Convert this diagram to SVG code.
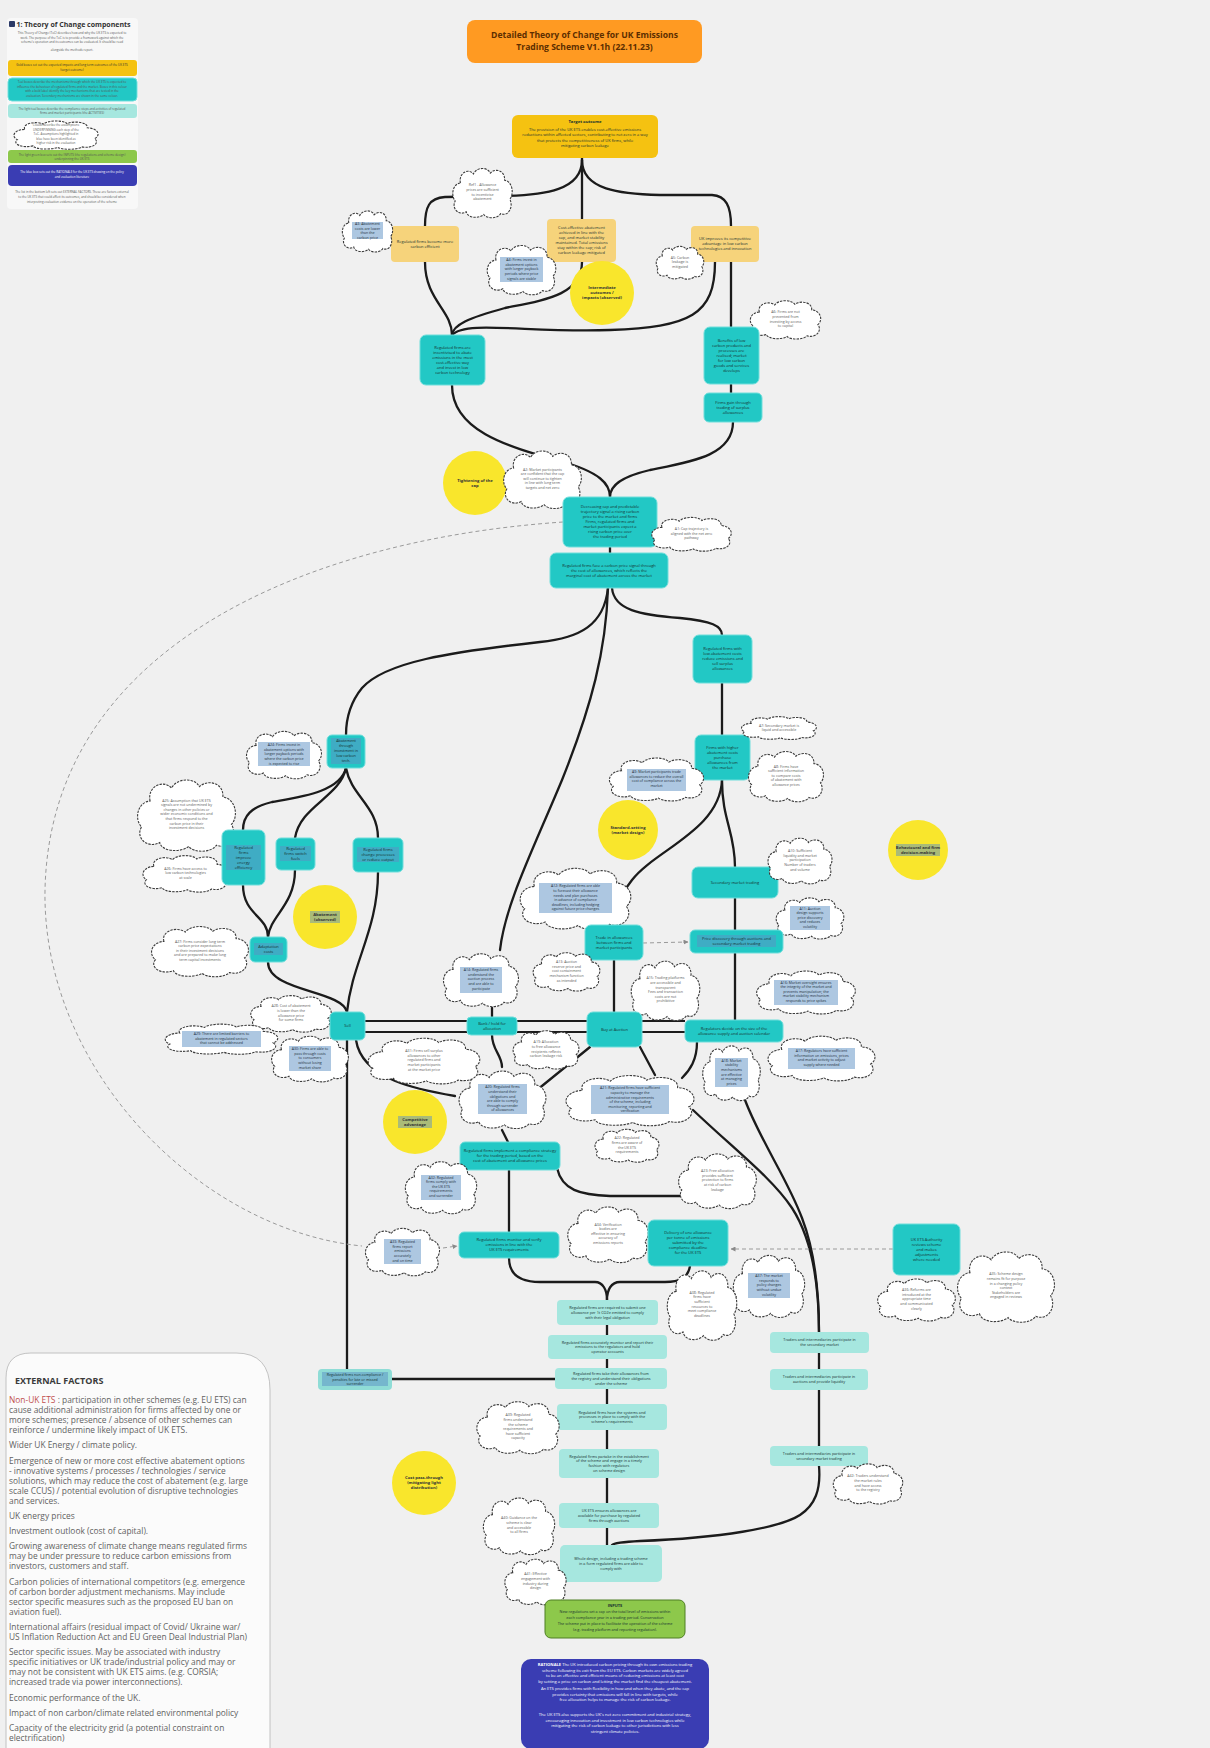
<svg xmlns="http://www.w3.org/2000/svg" width="1210" height="1748" viewBox="0 0 1210 1748">
<defs>
<style>
.tx{font-family:'Open Sans','Liberation Sans',sans-serif;text-anchor:middle;fill:#16302f;font-size:4px}
.ct{font-family:'Open Sans','Liberation Sans',sans-serif;text-anchor:middle;fill:#5a5a5a;font-size:3.6px}
.lg{font-family:'Open Sans','Liberation Sans',sans-serif;text-anchor:middle;fill:#555;font-size:3px}
.b{font-weight:700}
.f36{font-size:3.6px}
.f38{font-size:3.8px}
.f41{font-size:4.1px}
.f42{font-size:4.2px}
.dk{fill:#1d2e3a}
.cd{fill:#333}
.w{fill:#fff}
.teal{fill:#22c8c5;stroke:#6fdedb;stroke-width:1}
.lteal{fill:#a6e7df}
.gold{fill:#f5c211}
.pgold{fill:#f6d37b}
.yc{fill:#f9e62c}
.hl{fill:#5b8fc4;opacity:.5}
.ln{fill:none;stroke:#1b1b1b;stroke-width:2.3;stroke-linecap:round}
.ln2{fill:none;stroke:#1b1b1b;stroke-width:1.8}
.dash{fill:none;stroke:#9a9a9a;stroke-width:1;stroke-dasharray:4 3}
.ef{font-family:'Open Sans','Liberation Sans',sans-serif;font-size:8.4px;fill:#626262}
</style>
<symbol id="cloud" viewBox="0 0 100 60" preserveAspectRatio="none" overflow="visible">
<path d="M16,20 C13,9 28,3 36,10 C41,2 58,2 62,9 C70,3 85,6 84,17 C96,18 99,32 92,38 C98,46 90,58 78,54 C73,60 57,60 52,55 C44,60 27,59 25,52 C13,57 2,48 8,40 C1,34 4,21 16,20 Z" fill="#fff" stroke="#3c3c3c" stroke-width="1.1" stroke-dasharray="2.4 1.1" vector-effect="non-scaling-stroke"/>
</symbol>
<marker id="ah" viewBox="0 0 10 10" refX="9" refY="5" markerWidth="5" markerHeight="5" orient="auto">
<path d="M0,0 L10,5 L0,10 Z" fill="#8a8a8a"/>
</marker>
</defs>

<rect width="1210" height="1748" fill="#f0f0f0"/>

<!-- legend -->
<g id="legend">
<rect x="7" y="18" width="131" height="191" rx="4" fill="#f8f8f8"/>
<rect x="9" y="21" width="6" height="6" rx="1" fill="#2b3a67"/>
<text x="16.5" y="26.8" font-family="'Open Sans','Liberation Sans',sans-serif" font-size="7" font-weight="700" fill="#333">1: Theory of Change components</text>
<text class="lg" x="72" y="34"><tspan x="72">This Theory of Change (ToC) describes how and why the UK ETS is expected to</tspan><tspan x="72" dy="4.5">work. The purpose of the ToC is to provide a framework against which the</tspan><tspan x="72" dy="4.5">scheme's operation and its outcomes can be evaluated. It should be read</tspan><tspan x="72" dy="8">alongside the methods report.</tspan></text>
<rect x="8" y="60" width="129" height="16" rx="3" class="gold"/>
<text class="lg cd" x="72" y="66"><tspan x="72">Gold boxes set out the expected impacts and long term outcomes of the UK ETS</tspan><tspan x="72" dy="5">(target outcome)</tspan></text>
<rect x="8" y="78" width="129" height="23" rx="4" class="teal"/>
<text class="lg" x="72" y="83"><tspan x="72">Teal boxes describe the mechanisms through which the UK ETS is expected to</tspan><tspan x="72" dy="4.5">influence the behaviour of regulated firms and the market. Boxes in this colour</tspan><tspan x="72" dy="4.5">with a bold label identify the key mechanisms that are tested in the</tspan><tspan x="72" dy="4.5">evaluation. Secondary mechanisms are shown in the same colour.</tspan></text>
<rect x="8" y="104" width="129" height="14" rx="3" class="lteal"/>
<text class="lg" x="72" y="109.5"><tspan x="72">The light teal boxes describe the compliance steps and activities of regulated</tspan><tspan x="72" dy="4.5">firms and market participants (the ACTIVITIES)</tspan></text>
<use href="#cloud" x="10" y="119" width="92" height="31"/>
<text class="lg" x="56" y="126"><tspan x="56">Clouds describe the assumptions</tspan><tspan x="56" dy="4.5">UNDERPINNING each step of the</tspan><tspan x="56" dy="4.5">ToC. Assumptions highlighted in</tspan><tspan x="56" dy="4.5">blue have been identified as</tspan><tspan x="56" dy="4.5">higher risk in the evaluation</tspan></text>
<rect x="8" y="150" width="129" height="13" rx="3" fill="#8dc84b"/>
<text class="lg" x="72" y="155.5"><tspan x="72">The light green box sets out the INPUTS (the regulations and scheme design)</tspan><tspan x="72" dy="4.5">underpinning the UK ETS</tspan></text>
<rect x="8" y="165" width="129" height="21" rx="4" fill="#3a3db3"/>
<text class="lg w" x="72" y="173"><tspan x="72">The blue box sets out the RATIONALE for the UK ETS drawing on the policy</tspan><tspan x="72" dy="5">and evaluation literature</tspan></text>
<text class="lg" x="72" y="193"><tspan x="72">The list in the bottom left sets out EXTERNAL FACTORS. These are factors external</tspan><tspan x="72" dy="5">to the UK ETS that could affect its outcomes, and should be considered when</tspan><tspan x="72" dy="5">interpreting evaluation evidence on the operation of the scheme</tspan></text>
</g>

<!-- connectors -->
<g id="connectors">
<path class="ln" d="M582,158 L582,219"/>
<path class="ln" d="M582,160 C582,190 545,195 505,196 L445,197 C429,198 425,207 425,226"/>
<path class="ln" d="M582,160 C582,190 620,194 660,195 L712,195 C726,196 731,206 731,226"/>
<path class="ln" d="M425,262 C425,300 452,310 452,335"/>
<path class="ln" d="M582,262 C582,295 545,300 505,308 C468,318 453,325 452,335"/>
<path class="ln" d="M715,262 C715,315 690,327 610,330 C530,333 465,320 452,335"/>
<path class="ln" d="M731,262 L731,327"/>
<path class="ln" d="M731,384 L731,393"/>
<path class="ln" d="M452,385 C452,430 505,446 560,461 C600,472 610,484 610,497"/>
<path class="ln" d="M733,422 C733,456 690,462 650,470 C620,477 610,486 610,497"/>
<path class="ln" d="M610,546 L610,553"/>
<path class="ln" d="M608,588 C604,625 580,638 540,642 C450,652 385,662 362,688 C349,704 346,720 346,735"/>
<path class="ln" d="M612,588 C614,610 640,615 680,618 C712,621 722,626 722,635"/>
<path class="ln" d="M608,588 C606,650 592,705 562,780 C532,852 505,905 500,950"/>
<path class="ln" d="M722,683 L722,735"/>
<path class="ln" d="M722,780 C722,820 735,832 735,867"/>
<path class="ln" d="M722,780 C720,830 655,850 632,880 C619,897 614,910 614,925"/>
<path class="ln" d="M735,898 L735,930"/>
<path class="ln" d="M735,953 L735,1020"/>
<path class="ln" d="M614,960 L614,1012"/>
<path class="ln" d="M346,768 C340,792 300,797 272,802 C251,807 243,816 243,830"/>
<path class="ln" d="M346,768 C340,797 300,806 295,838"/>
<path class="ln" d="M346,768 C351,796 378,806 378,838"/>
<path class="ln" d="M243,885 C243,915 268,916 268,937"/>
<path class="ln" d="M295,870 C295,905 270,916 268,937"/>
<path class="ln" d="M268,962 C268,992 342,990 347,1012"/>
<path class="ln" d="M378,872 C378,930 352,962 347,1012"/>
<path class="ln" d="M347,1040 L347,1369"/>
<path class="ln2" d="M365,1021 L467,1021 M365,1032 L467,1032 M517,1021 L587,1021 M517,1032 L587,1032 M642,1021 L685,1021 M642,1032 L685,1032"/>
<path class="ln" d="M492,1008 L492,1017"/>
<path class="ln" d="M492,1035 C492,1050 502,1055 502,1067"/>
<path class="ln" d="M502,1130 L508,1142"/>
<path class="ln" d="M356,1040 C362,1080 420,1090 455,1096"/>
<path class="ln" d="M590,1047 L537,1090"/>
<path class="ln" d="M640,1047 L655,1075"/>
<path class="ln" d="M697,1042 C697,1060 690,1070 682,1078"/>
<path class="ln" d="M693,1110 C735,1150 772,1178 792,1208 C814,1242 819,1290 819,1332"/>
<path class="ln" d="M745,1100 C760,1140 788,1180 802,1218 C815,1252 819,1290 819,1332"/>
<path class="ln" d="M509,1170 L509,1232"/>
<path class="ln" d="M557,1168 C562,1190 580,1195 610,1196 L680,1196"/>
<path class="ln" d="M509,1258 C509,1275 520,1282 540,1282 L595,1282 C603,1282 607,1290 607,1300"/>
<path class="ln" d="M690,1266 C688,1278 680,1282 665,1282 L620,1282 C611,1282 607,1290 607,1300"/>
<path class="ln" d="M607,1325 L607,1545"/>
<path class="ln" d="M392,1379 L555,1379"/>
<path class="ln" d="M819,1353 L819,1446"/>
<path class="ln" d="M819,1466 C821,1490 815,1505 800,1515 C780,1528 720,1538 640,1541 C622,1542 614,1543 612,1545"/>
<path class="dash" d="M563,522 C300,540 50,650 45,890 C42,1070 200,1230 362,1246"/>
<path class="dash" d="M443,1248 L457,1246" marker-end="url(#ah)"/>
<path class="dash" d="M643,943 L688,942" marker-end="url(#ah)"/>
<path class="dash" d="M893,1249 L731,1249" marker-end="url(#ah)"/>
</g>

<!-- title and target outcome -->
<g id="title">
<rect x="467" y="20" width="235" height="43" rx="8" fill="#ff9a22"/>
<text class="tx b" x="584.5" y="37.5" style="font-size:8.6px;fill:#5c2e00"><tspan x="584.5">Detailed Theory of Change for UK Emissions</tspan><tspan x="584.5" dy="12.5">Trading Scheme V1.1h (22.11.23)</tspan></text>
</g>
<g id="goal">
<rect x="512" y="115" width="146" height="43" rx="6" class="gold"/>
<text class="tx b f42" x="585" y="123">Target outcome</text>
<text class="tx" x="585" y="131"><tspan x="585">The provision of the UK ETS enables cost-effective emissions</tspan><tspan x="585" dy="5.3">reductions within affected sectors, contributing to net zero in a way</tspan><tspan x="585" dy="5.3">that protects the competitiveness of UK firms, while</tspan><tspan x="585" dy="5.3">mitigating carbon leakage</tspan></text>
</g>

<!-- impacts -->
<g id="imp-left"><rect x="391" y="226" width="68" height="36" rx="4" class="pgold"/>
<text class="tx" x="425" y="243"><tspan x="425">Regulated firms become more</tspan><tspan x="425" dy="5">carbon efficient</tspan></text></g>
<g id="imp-mid"><rect x="547" y="219" width="69" height="43" rx="4" class="pgold"/>
<text class="tx" x="581.5" y="229.4"><tspan x="581.5">Cost-effective abatement</tspan><tspan x="581.5" dy="5">achieved in line with the</tspan><tspan x="581.5" dy="5">cap, and market stability</tspan><tspan x="581.5" dy="5">maintained. Total emissions</tspan><tspan x="581.5" dy="5">stay within the cap; risk of</tspan><tspan x="581.5" dy="5">carbon leakage mitigated</tspan></text></g>
<g id="imp-right"><rect x="691" y="226" width="68" height="36" rx="4" class="pgold"/>
<text class="tx" x="725" y="240.4"><tspan x="725">UK improves its competitive</tspan><tspan x="725" dy="5">advantage in low carbon</tspan><tspan x="725" dy="5">technologies and innovation</tspan></text></g>

<g id="a-ref1"><use href="#cloud" x="450" y="165" width="65" height="54"/>
<text class="ct" x="482.5" y="186.4"><tspan x="482.5">Ref1 - Allowance</tspan><tspan x="482.5" dy="4.6">prices are sufficient</tspan><tspan x="482.5" dy="4.6">to incentivise</tspan><tspan x="482.5" dy="4.6">abatement</tspan></text></g>
<g id="a3"><use href="#cloud" x="340" y="208" width="55" height="45"/>
<rect class="hl" x="352" y="222" width="31" height="17"/>
<text class="ct dk" x="367.5" y="224.9"><tspan x="367.5">A3: Abatement</tspan><tspan x="367.5" dy="4.6">costs are lower</tspan><tspan x="367.5" dy="4.6">than the</tspan><tspan x="367.5" dy="4.6">carbon price</tspan></text></g>
<g id="a4"><use href="#cloud" x="484" y="242" width="75" height="54"/>
<rect class="hl" x="500" y="257" width="43" height="25"/>
<text class="ct dk" x="521.5" y="261.1"><tspan x="521.5">A4: Firms invest in</tspan><tspan x="521.5" dy="4.6">abatement options</tspan><tspan x="521.5" dy="4.6">with longer payback</tspan><tspan x="521.5" dy="4.6">periods where price</tspan><tspan x="521.5" dy="4.6">signals are stable</tspan></text></g>
<g id="a5"><use href="#cloud" x="654" y="244" width="52" height="36"/>
<text class="ct" x="680" y="258.7"><tspan x="680">A5: Carbon</tspan><tspan x="680" dy="4.6">leakage is</tspan><tspan x="680" dy="4.6">mitigated</tspan></text></g>
<g id="a6"><use href="#cloud" x="747" y="298" width="77" height="42"/>
<text class="ct" x="785.5" y="313.4"><tspan x="785.5">A6: Firms are not</tspan><tspan x="785.5" dy="4.6">prevented from</tspan><tspan x="785.5" dy="4.6">investing by access</tspan><tspan x="785.5" dy="4.6">to capital</tspan></text></g>

<g id="c-intermediate"><circle cx="602" cy="293" r="32" class="yc"/>
<text class="tx b f42 cd" x="602" y="289.4"><tspan x="602">Intermediate</tspan><tspan x="602" dy="5">outcomes /</tspan><tspan x="602" dy="5">impacts (observed)</tspan></text></g>

<!-- mechanisms -->
<g id="m-incentive"><rect x="420" y="335" width="65" height="50" rx="6" class="teal"/>
<text class="tx" x="452.5" y="348.9"><tspan x="452.5">Regulated firms are</tspan><tspan x="452.5" dy="5">incentivised to abate</tspan><tspan x="452.5" dy="5">emissions in the most</tspan><tspan x="452.5" dy="5">cost-effective way</tspan><tspan x="452.5" dy="5">and invest in low</tspan><tspan x="452.5" dy="5">carbon technology</tspan></text></g>
<g id="m-benefits"><rect x="704" y="327" width="55" height="57" rx="6" class="teal"/>
<text class="tx" x="731.5" y="341.9"><tspan x="731.5">Benefits of low</tspan><tspan x="731.5" dy="5">carbon products and</tspan><tspan x="731.5" dy="5">processes are</tspan><tspan x="731.5" dy="5">realised; market</tspan><tspan x="731.5" dy="5">for low carbon</tspan><tspan x="731.5" dy="5">goods and services</tspan><tspan x="731.5" dy="5">develops</tspan></text></g>
<g id="m-gain"><rect x="704" y="393" width="58" height="29" rx="5" class="teal"/>
<text class="tx" x="733" y="403.9"><tspan x="733">Firms gain through</tspan><tspan x="733" dy="5">trading of surplus</tspan><tspan x="733" dy="5">allowances</tspan></text></g>

<g id="c-cap"><circle cx="475" cy="483" r="32" class="yc"/>
<text class="tx b f42 cd" x="475" y="481.9"><tspan x="475">Tightening of the</tspan><tspan x="475" dy="5">cap</tspan></text></g>
<g id="a2"><use href="#cloud" x="500" y="447" width="85" height="63"/>
<text class="ct" x="542.5" y="470.6"><tspan x="542.5">A2: Market participants</tspan><tspan x="542.5" dy="4.6">are confident that the cap</tspan><tspan x="542.5" dy="4.6">will continue to tighten</tspan><tspan x="542.5" dy="4.6">in line with long term</tspan><tspan x="542.5" dy="4.6">targets and net zero</tspan></text></g>
<g id="m-cap"><rect x="563" y="497" width="94" height="50" rx="6" class="teal"/>
<text class="tx" x="610" y="508.4"><tspan x="610">Decreasing cap and predictable</tspan><tspan x="610" dy="5">trajectory signal a rising carbon</tspan><tspan x="610" dy="5">price to the market and firms</tspan><tspan x="610" dy="5">Firms, regulated firms and</tspan><tspan x="610" dy="5">market participants expect a</tspan><tspan x="610" dy="5">rising carbon price over</tspan><tspan x="610" dy="5">the trading period</tspan></text></g>
<g id="a1"><use href="#cloud" x="648" y="515" width="87" height="37"/>
<text class="ct" x="691.5" y="530.2"><tspan x="691.5">A1: Cap trajectory is</tspan><tspan x="691.5" dy="4.6">aligned with the net zero</tspan><tspan x="691.5" dy="4.6">pathway</tspan></text></g>
<g id="m-price"><rect x="550" y="553" width="118" height="35" rx="6" class="teal"/>
<text class="tx" x="609" y="566.9"><tspan x="609">Regulated firms face a carbon price signal through</tspan><tspan x="609" dy="5">the cost of allowances, which reflects the</tspan><tspan x="609" dy="5">marginal cost of abatement across the market</tspan></text></g>

<g id="m-low-cost"><rect x="693" y="635" width="59" height="48" rx="6" class="teal"/>
<text class="tx" x="722.5" y="650.4"><tspan x="722.5">Regulated firms with</tspan><tspan x="722.5" dy="5">low abatement costs</tspan><tspan x="722.5" dy="5">reduce emissions and</tspan><tspan x="722.5" dy="5">sell surplus</tspan><tspan x="722.5" dy="5">allowances</tspan></text></g>
<g id="m-high-cost"><rect x="695" y="735" width="55" height="45" rx="6" class="teal"/>
<text class="tx" x="722.5" y="748.9"><tspan x="722.5">Firms with higher</tspan><tspan x="722.5" dy="5">abatement costs</tspan><tspan x="722.5" dy="5">purchase</tspan><tspan x="722.5" dy="5">allowances from</tspan><tspan x="722.5" dy="5">the market</tspan></text></g>
<g id="a7"><use href="#cloud" x="738" y="715" width="82" height="25"/>
<text class="ct" x="779" y="726.5"><tspan x="779">A7: Secondary market is</tspan><tspan x="779" dy="4.6">liquid and accessible</tspan></text></g>
<g id="a8"><use href="#cloud" x="745" y="748" width="82" height="55"/>
<text class="ct" x="786" y="767.6"><tspan x="786">A8: Firms have</tspan><tspan x="786" dy="4.6">sufficient information</tspan><tspan x="786" dy="4.6">to compare costs</tspan><tspan x="786" dy="4.6">of abatement with</tspan><tspan x="786" dy="4.6">allowance prices</tspan></text></g>
<g id="a9"><use href="#cloud" x="605" y="755" width="103" height="47"/>
<rect class="hl" x="627" y="769" width="59" height="22"/>
<text class="ct dk" x="656.5" y="772.9"><tspan x="656.5">A9: Market participants trade</tspan><tspan x="656.5" dy="4.6">allowances to reduce the overall</tspan><tspan x="656.5" dy="4.6">cost of compliance across the</tspan><tspan x="656.5" dy="4.6">market</tspan></text></g>
<g id="c-standard"><circle cx="628" cy="830" r="30" class="yc"/>
<text class="tx b f42 cd" x="628" y="828.9"><tspan x="628">Standard-setting</tspan><tspan x="628" dy="5">(market design)</tspan></text></g>
<g id="c-behaviour"><circle cx="918" cy="850" r="30" class="yc"/>
<rect class="hl" x="896" y="844" width="44" height="12"/>
<text class="tx b f42 cd" x="918" y="848.9"><tspan x="918">Behavioural and firm</tspan><tspan x="918" dy="5">decision-making</tspan></text></g>
<g id="m-secondary"><rect x="692" y="867" width="86" height="31" rx="6" class="teal"/>
<text class="tx" x="735" y="883.9">Secondary market trading</text></g>
<g id="a10"><use href="#cloud" x="765" y="835" width="70" height="50"/>
<text class="ct" x="800" y="852.1"><tspan x="800">A10: Sufficient</tspan><tspan x="800" dy="4.6">liquidity and market</tspan><tspan x="800" dy="4.6">participation</tspan><tspan x="800" dy="4.6">Number of traders</tspan><tspan x="800" dy="4.6">and volume</tspan></text></g>
<g id="a11"><use href="#cloud" x="773" y="895" width="74" height="45"/>
<rect class="hl" x="790" y="906" width="40" height="24"/>
<text class="ct dk" x="810" y="909.6"><tspan x="810">A11: Auction</tspan><tspan x="810" dy="4.6">design supports</tspan><tspan x="810" dy="4.6">price discovery</tspan><tspan x="810" dy="4.6">and reduces</tspan><tspan x="810" dy="4.6">volatility</tspan></text></g>
<g id="m-discovery"><rect x="690" y="930" width="93" height="23" rx="5" class="teal"/>
<rect class="hl" x="697" y="935" width="79" height="12"/>
<text class="tx" x="736.5" y="940.4"><tspan x="736.5">Price discovery through auctions and</tspan><tspan x="736.5" dy="5">secondary market trading</tspan></text></g>
<g id="a12"><use href="#cloud" x="515" y="864" width="121" height="67"/>
<rect class="hl" x="539" y="883" width="73" height="30"/>
<text class="ct dk" x="575.5" y="887.3"><tspan x="575.5">A12: Regulated firms are able</tspan><tspan x="575.5" dy="4.6">to forecast their allowance</tspan><tspan x="575.5" dy="4.6">needs and plan purchases</tspan><tspan x="575.5" dy="4.6">in advance of compliance</tspan><tspan x="575.5" dy="4.6">deadlines, including hedging</tspan><tspan x="575.5" dy="4.6">against future price changes</tspan></text></g>
<g id="m-trade"><rect x="585" y="925" width="58" height="35" rx="6" class="teal"/>
<text class="tx" x="614" y="938.9"><tspan x="614">Trade in allowances</tspan><tspan x="614" dy="5">between firms and</tspan><tspan x="614" dy="5">market participants</tspan></text></g>
<g id="a13"><use href="#cloud" x="530" y="950" width="73" height="42"/>
<text class="ct" x="566.5" y="963.1"><tspan x="566.5">A13: Auction</tspan><tspan x="566.5" dy="4.6">reserve price and</tspan><tspan x="566.5" dy="4.6">cost containment</tspan><tspan x="566.5" dy="4.6">mechanism function</tspan><tspan x="566.5" dy="4.6">as intended</tspan></text></g>
<g id="a14"><use href="#cloud" x="440" y="950" width="82" height="58"/>
<rect class="hl" x="460" y="967" width="42" height="26"/>
<text class="ct dk" x="481" y="971.1"><tspan x="481">A14: Regulated firms</tspan><tspan x="481" dy="4.6">understand the</tspan><tspan x="481" dy="4.6">auction process</tspan><tspan x="481" dy="4.6">and are able to</tspan><tspan x="481" dy="4.6">participate</tspan></text></g>
<g id="a15"><use href="#cloud" x="628" y="957" width="75" height="65"/>
<text class="ct" x="665.5" y="979.3"><tspan x="665.5">A15: Trading platforms</tspan><tspan x="665.5" dy="4.6">are accessible and</tspan><tspan x="665.5" dy="4.6">transparent</tspan><tspan x="665.5" dy="4.6">Fees and transaction</tspan><tspan x="665.5" dy="4.6">costs are not</tspan><tspan x="665.5" dy="4.6">prohibitive</tspan></text></g>
<g id="a16"><use href="#cloud" x="752" y="968" width="108" height="47"/>
<rect class="hl" x="774" y="980" width="64" height="25"/>
<text class="ct dk" x="806" y="983.6"><tspan x="806">A16: Market oversight ensures</tspan><tspan x="806" dy="4.6">the integrity of the market and</tspan><tspan x="806" dy="4.6">prevents manipulation; the</tspan><tspan x="806" dy="4.6">market stability mechanism</tspan><tspan x="806" dy="4.6">responds to price spikes</tspan></text></g>
<g id="m-auction"><rect x="587" y="1012" width="55" height="35" rx="6" class="teal"/>
<text class="tx" x="614.5" y="1030.9">Buy at Auction</text></g>
<g id="m-bank"><rect x="467" y="1017" width="50" height="18" rx="4" class="teal"/>
<text class="tx" x="492" y="1024.9"><tspan x="492">Bank / hold for</tspan><tspan x="492" dy="5">allocation</tspan></text></g>
<g id="m-supply"><rect x="685" y="1020" width="98" height="22" rx="5" class="teal"/>
<text class="tx" x="734" y="1029.9"><tspan x="734">Regulators decide on the size of the</tspan><tspan x="734" dy="5">allowance supply and auction calendar</tspan></text></g>
<g id="a17"><use href="#cloud" x="763" y="1033" width="117" height="49"/>
<rect class="hl" x="788" y="1048" width="67" height="21"/>
<text class="ct dk" x="821.5" y="1051.9"><tspan x="821.5">A17: Regulators have sufficient</tspan><tspan x="821.5" dy="4.6">information on emissions, prices</tspan><tspan x="821.5" dy="4.6">and market activity to adjust</tspan><tspan x="821.5" dy="4.6">supply where needed</tspan></text></g>
<g id="a18"><use href="#cloud" x="700" y="1042" width="63" height="60"/>
<rect class="hl" x="715" y="1058" width="33" height="29"/>
<text class="ct dk" x="731.5" y="1061.8"><tspan x="731.5">A18: Market</tspan><tspan x="731.5" dy="4.6">stability</tspan><tspan x="731.5" dy="4.6">mechanisms</tspan><tspan x="731.5" dy="4.6">are effective</tspan><tspan x="731.5" dy="4.6">at managing</tspan><tspan x="731.5" dy="4.6">prices</tspan></text></g>
<g id="a19"><use href="#cloud" x="510" y="1028" width="72" height="42"/>
<text class="ct" x="546" y="1043.4"><tspan x="546">A19: Allocation</tspan><tspan x="546" dy="4.6">to free allowance</tspan><tspan x="546" dy="4.6">recipients reflects</tspan><tspan x="546" dy="4.6">carbon leakage risk</tspan></text></g>
<g id="a20"><use href="#cloud" x="455" y="1067" width="95" height="63"/>
<rect class="hl" x="478" y="1084" width="49" height="30"/>
<text class="ct dk" x="502.5" y="1088.3"><tspan x="502.5">A20: Regulated firms</tspan><tspan x="502.5" dy="4.6">understand their</tspan><tspan x="502.5" dy="4.6">obligations and</tspan><tspan x="502.5" dy="4.6">are able to comply</tspan><tspan x="502.5" dy="4.6">through surrender</tspan><tspan x="502.5" dy="4.6">of allowances</tspan></text></g>
<g id="a21"><use href="#cloud" x="560" y="1072" width="140" height="55"/>
<rect class="hl" x="591" y="1085" width="78" height="29"/>
<text class="ct dk" x="630" y="1089.3"><tspan x="630">A21: Regulated firms have sufficient</tspan><tspan x="630" dy="4.6">capacity to manage the</tspan><tspan x="630" dy="4.6">administrative requirements</tspan><tspan x="630" dy="4.6">of the scheme, including</tspan><tspan x="630" dy="4.6">monitoring, reporting and</tspan><tspan x="630" dy="4.6">verification</tspan></text></g>
<g id="a22"><use href="#cloud" x="592" y="1127" width="70" height="36"/>
<text class="ct" x="627" y="1139.4"><tspan x="627">A22: Regulated</tspan><tspan x="627" dy="4.6">firms are aware of</tspan><tspan x="627" dy="4.6">the UK ETS</tspan><tspan x="627" dy="4.6">requirements</tspan></text></g>
<g id="m-strategy"><rect x="460" y="1142" width="100" height="28" rx="5" class="teal"/>
<text class="tx" x="510" y="1152.4"><tspan x="510">Regulated firms implement a compliance strategy</tspan><tspan x="510" dy="5">for the trading period, based on the</tspan><tspan x="510" dy="5">cost of abatement and allowance prices</tspan></text></g>
<g id="a23"><use href="#cloud" x="675" y="1150" width="85" height="60"/>
<text class="ct" x="717.5" y="1172.1"><tspan x="717.5">A23: Free allocation</tspan><tspan x="717.5" dy="4.6">provides sufficient</tspan><tspan x="717.5" dy="4.6">protection to firms</tspan><tspan x="717.5" dy="4.6">at risk of carbon</tspan><tspan x="717.5" dy="4.6">leakage</tspan></text></g>

<!-- abatement branch -->
<g id="m-abatement"><rect x="327" y="735" width="38" height="33" rx="5" class="teal"/>
<rect class="hl" x="331" y="738" width="30" height="26"/>
<text class="tx f38" x="346" y="741.9"><tspan x="346">Abatement</tspan><tspan x="346" dy="5">through</tspan><tspan x="346" dy="5">investment in</tspan><tspan x="346" dy="5">low carbon</tspan><tspan x="346" dy="5">tech.</tspan></text></g>
<g id="a24"><use href="#cloud" x="243" y="728" width="82" height="52"/>
<rect class="hl" x="258" y="742" width="52" height="24"/>
<text class="ct dk" x="284" y="746.1"><tspan x="284">A24: Firms invest in</tspan><tspan x="284" dy="4.6">abatement options with</tspan><tspan x="284" dy="4.6">longer payback periods</tspan><tspan x="284" dy="4.6">where the carbon price</tspan><tspan x="284" dy="4.6">is expected to rise</tspan></text></g>
<g id="a25"><use href="#cloud" x="133" y="775" width="107" height="78"/>
<text class="ct" x="186.5" y="801.5"><tspan x="186.5">A25: Assumption that UK ETS</tspan><tspan x="186.5" dy="4.6">signals are not undermined by</tspan><tspan x="186.5" dy="4.6">changes in other policies or</tspan><tspan x="186.5" dy="4.6">wider economic conditions and</tspan><tspan x="186.5" dy="4.6">that firms respond to the</tspan><tspan x="186.5" dy="4.6">carbon price in their</tspan><tspan x="186.5" dy="4.6">investment decisions</tspan></text></g>
<g id="a26"><use href="#cloud" x="139" y="853" width="93" height="40"/>
<text class="ct" x="185.5" y="869.7"><tspan x="185.5">A26: Firms have access to</tspan><tspan x="185.5" dy="4.6">low carbon technologies</tspan><tspan x="185.5" dy="4.6">at scale</tspan></text></g>
<g id="m-efficiency"><rect x="222" y="830" width="43" height="55" rx="6" class="teal"/>
<rect class="hl" x="226" y="845" width="35" height="25"/>
<text class="tx" x="243.5" y="848.9"><tspan x="243.5">Regulated</tspan><tspan x="243.5" dy="5">firms</tspan><tspan x="243.5" dy="5">improve</tspan><tspan x="243.5" dy="5">energy</tspan><tspan x="243.5" dy="5">efficiency</tspan></text></g>
<g id="m-fuel"><rect x="276" y="838" width="39" height="32" rx="5" class="teal"/>
<rect class="hl" x="280" y="846" width="31" height="15"/>
<text class="tx" x="295.5" y="850.4"><tspan x="295.5">Regulated</tspan><tspan x="295.5" dy="5">firms switch</tspan><tspan x="295.5" dy="5">fuels</tspan></text></g>
<g id="m-process"><rect x="353" y="838" width="50" height="34" rx="5" class="teal"/>
<rect class="hl" x="357" y="847" width="42" height="15"/>
<text class="tx" x="378" y="851.4"><tspan x="378">Regulated firms</tspan><tspan x="378" dy="5">change processes</tspan><tspan x="378" dy="5">or reduce output</tspan></text></g>
<g id="c-abatement"><circle cx="325" cy="917" r="32" class="yc"/>
<rect class="hl" x="310" y="911" width="30" height="12"/>
<text class="tx b f42 cd" x="325" y="915.9"><tspan x="325">Abatement</tspan><tspan x="325" dy="5">(observed)</tspan></text></g>
<g id="a27"><use href="#cloud" x="147" y="923" width="106" height="55"/>
<text class="ct" x="200" y="942.6"><tspan x="200">A27: Firms consider long term</tspan><tspan x="200" dy="4.6">carbon price expectations</tspan><tspan x="200" dy="4.6">in their investment decisions</tspan><tspan x="200" dy="4.6">and are prepared to make long</tspan><tspan x="200" dy="4.6">term capital investments</tspan></text></g>
<g id="m-adaptation"><rect x="250" y="937" width="37" height="25" rx="5" class="teal"/>
<rect class="hl" x="254" y="943" width="29" height="12"/>
<text class="tx" x="268.5" y="948.4"><tspan x="268.5">Adaptation</tspan><tspan x="268.5" dy="5">costs</tspan></text></g>
<g id="a28"><use href="#cloud" x="247" y="993" width="88" height="40"/>
<text class="ct" x="291" y="1007.4"><tspan x="291">A28: Cost of abatement</tspan><tspan x="291" dy="4.6">is lower than the</tspan><tspan x="291" dy="4.6">allowance price</tspan><tspan x="291" dy="4.6">for some firms</tspan></text></g>
<g id="a29"><use href="#cloud" x="160" y="1022" width="123" height="33"/>
<rect class="hl" x="182" y="1031" width="79" height="16"/>
<text class="ct dk" x="221.5" y="1035.2"><tspan x="221.5">A29: There are limited barriers to</tspan><tspan x="221.5" dy="4.6">abatement in regulated sectors</tspan><tspan x="221.5" dy="4.6">that cannot be addressed</tspan></text></g>
<g id="a30"><use href="#cloud" x="268" y="1033" width="84" height="50"/>
<rect class="hl" x="289" y="1046" width="42" height="25"/>
<text class="ct dk" x="310" y="1050.1"><tspan x="310">A30: Firms are able to</tspan><tspan x="310" dy="4.6">pass through costs</tspan><tspan x="310" dy="4.6">to consumers</tspan><tspan x="310" dy="4.6">without losing</tspan><tspan x="310" dy="4.6">market share</tspan></text></g>
<g id="m-sell"><rect x="330" y="1012" width="35" height="28" rx="5" class="teal"/>
<text class="tx" x="347.5" y="1027.4">Sell</text></g>
<g id="a31"><use href="#cloud" x="363" y="1035" width="122" height="50"/>
<text class="ct" x="424" y="1052.1"><tspan x="424">A31: Firms sell surplus</tspan><tspan x="424" dy="4.6">allowances to other</tspan><tspan x="424" dy="4.6">regulated firms and</tspan><tspan x="424" dy="4.6">market participants</tspan><tspan x="424" dy="4.6">at the market price</tspan></text></g>
<g id="c-competitive"><circle cx="415" cy="1122" r="32" class="yc"/>
<rect class="hl" x="398" y="1116" width="34" height="12"/>
<text class="tx b f42 cd" x="415" y="1120.9"><tspan x="415">Competitive</tspan><tspan x="415" dy="5">advantage</tspan></text></g>

<!-- compliance -->
<g id="a32"><use href="#cloud" x="402" y="1158" width="78" height="57"/>
<rect class="hl" x="421" y="1175" width="40" height="25"/>
<text class="ct dk" x="441" y="1178.6"><tspan x="441">A32: Regulated</tspan><tspan x="441" dy="4.6">firms comply with</tspan><tspan x="441" dy="4.6">the UK ETS</tspan><tspan x="441" dy="4.6">requirements</tspan><tspan x="441" dy="4.6">and surrender</tspan></text></g>
<g id="a33"><use href="#cloud" x="362" y="1225" width="81" height="52"/>
<rect class="hl" x="384" y="1239" width="37" height="25"/>
<text class="ct dk" x="402.5" y="1243.1"><tspan x="402.5">A33: Regulated</tspan><tspan x="402.5" dy="4.6">firms report</tspan><tspan x="402.5" dy="4.6">emissions</tspan><tspan x="402.5" dy="4.6">accurately</tspan><tspan x="402.5" dy="4.6">and on time</tspan></text></g>
<g id="m-monitor"><rect x="459" y="1232" width="100" height="26" rx="5" class="teal"/>
<text class="tx" x="509" y="1241.4"><tspan x="509">Regulated firms monitor and verify</tspan><tspan x="509" dy="5">emissions in line with the</tspan><tspan x="509" dy="5">UK ETS requirements</tspan></text></g>
<g id="a34"><use href="#cloud" x="564" y="1203" width="88" height="61"/>
<text class="ct" x="608" y="1225.6"><tspan x="608">A34: Verification</tspan><tspan x="608" dy="4.6">bodies are</tspan><tspan x="608" dy="4.6">effective in ensuring</tspan><tspan x="608" dy="4.6">accuracy of</tspan><tspan x="608" dy="4.6">emissions reports</tspan></text></g>
<g id="m-delivery"><rect x="648" y="1220" width="80" height="46" rx="6" class="teal"/>
<text class="tx" x="688" y="1234.4"><tspan x="688">Delivery of one allowance</tspan><tspan x="688" dy="5">per tonne of emissions</tspan><tspan x="688" dy="5">submitted by the</tspan><tspan x="688" dy="5">compliance deadline</tspan><tspan x="688" dy="5">for the UK ETS</tspan></text></g>
<g id="m-review"><rect x="893" y="1224" width="67" height="51" rx="6" class="teal"/>
<text class="tx" x="926.5" y="1240.9"><tspan x="926.5">UK ETS Authority</tspan><tspan x="926.5" dy="5">reviews scheme</tspan><tspan x="926.5" dy="5">and makes</tspan><tspan x="926.5" dy="5">adjustments</tspan><tspan x="926.5" dy="5">where needed</tspan></text></g>
<g id="a35"><use href="#cloud" x="953" y="1247" width="106" height="77"/>
<text class="ct" x="1006" y="1275.3"><tspan x="1006">A35: Scheme design</tspan><tspan x="1006" dy="4.6">remains fit for purpose</tspan><tspan x="1006" dy="4.6">in a changing policy</tspan><tspan x="1006" dy="4.6">context</tspan><tspan x="1006" dy="4.6">Stakeholders are</tspan><tspan x="1006" dy="4.6">engaged in reviews</tspan></text></g>
<g id="a36"><use href="#cloud" x="874" y="1276" width="85" height="46"/>
<text class="ct" x="916.5" y="1291.1"><tspan x="916.5">A36: Reforms are</tspan><tspan x="916.5" dy="4.6">introduced at the</tspan><tspan x="916.5" dy="4.6">appropriate time</tspan><tspan x="916.5" dy="4.6">and communicated</tspan><tspan x="916.5" dy="4.6">clearly</tspan></text></g>
<g id="a37"><use href="#cloud" x="730" y="1251" width="78" height="68"/>
<rect class="hl" x="748" y="1273" width="42" height="25"/>
<text class="ct dk" x="769" y="1277.1"><tspan x="769">A37: The market</tspan><tspan x="769" dy="4.6">responds to</tspan><tspan x="769" dy="4.6">policy changes</tspan><tspan x="769" dy="4.6">without undue</tspan><tspan x="769" dy="4.6">volatility</tspan></text></g>
<g id="a38"><use href="#cloud" x="664" y="1266" width="76" height="76"/>
<text class="ct" x="702" y="1293.8"><tspan x="702">A38: Regulated</tspan><tspan x="702" dy="4.6">firms have</tspan><tspan x="702" dy="4.6">sufficient</tspan><tspan x="702" dy="4.6">resources to</tspan><tspan x="702" dy="4.6">meet compliance</tspan><tspan x="702" dy="4.6">deadlines</tspan></text></g>

<!-- activities -->
<g id="act-submit"><rect x="557" y="1300" width="101" height="25" rx="4" class="lteal"/>
<text class="tx f38" x="607.5" y="1309"><tspan x="607.5">Regulated firms are required to submit one</tspan><tspan x="607.5" dy="4.8">allowance per 1t CO2e emitted to comply</tspan><tspan x="607.5" dy="4.8">with their legal obligation</tspan></text></g>
<g id="act-report"><rect x="548" y="1335" width="119" height="24" rx="4" class="lteal"/>
<text class="tx f38" x="607.5" y="1343.5"><tspan x="607.5">Regulated firms accurately monitor and report their</tspan><tspan x="607.5" dy="4.8">emissions to the regulators and hold</tspan><tspan x="607.5" dy="4.8">operator accounts</tspan></text></g>
<g id="act-registry"><rect x="555" y="1368" width="112" height="21" rx="4" class="lteal"/>
<text class="tx f38" x="611" y="1375"><tspan x="611">Regulated firms take their allowances from</tspan><tspan x="611" dy="4.8">the registry and understand their obligations</tspan><tspan x="611" dy="4.8">under the scheme</tspan></text></g>
<g id="act-systems"><rect x="557" y="1404" width="110" height="26" rx="4" class="lteal"/>
<text class="tx f38" x="612" y="1413.5"><tspan x="612">Regulated firms have the systems and</tspan><tspan x="612" dy="4.8">processes in place to comply with the</tspan><tspan x="612" dy="4.8">scheme's requirements</tspan></text></g>
<g id="act-engage"><rect x="559" y="1449" width="100" height="29" rx="4" class="lteal"/>
<text class="tx f38" x="609" y="1457.6"><tspan x="609">Regulated firms partake in the establishment</tspan><tspan x="609" dy="4.8">of the scheme and engage in a timely</tspan><tspan x="609" dy="4.8">fashion with regulators</tspan><tspan x="609" dy="4.8">on scheme design</tspan></text></g>
<g id="act-available"><rect x="559" y="1503" width="100" height="25" rx="4" class="lteal"/>
<text class="tx f38" x="609" y="1512"><tspan x="609">UK ETS ensures allowances are</tspan><tspan x="609" dy="4.8">available for purchase by regulated</tspan><tspan x="609" dy="4.8">firms through auctions</tspan></text></g>
<g id="act-design"><rect x="560" y="1545" width="102" height="37" rx="5" class="lteal"/>
<text class="tx f38" x="611" y="1560"><tspan x="611">Whole design, including a trading scheme</tspan><tspan x="611" dy="4.8">in a form regulated firms are able to</tspan><tspan x="611" dy="4.8">comply with</tspan></text></g>
<g id="act-traders-sec"><rect x="770" y="1332" width="99" height="21" rx="4" class="lteal"/>
<text class="tx f38" x="819.5" y="1341.4"><tspan x="819.5">Traders and intermediaries participate in</tspan><tspan x="819.5" dy="4.8">the secondary market</tspan></text></g>
<g id="act-traders-auc"><rect x="770" y="1369" width="98" height="21" rx="4" class="lteal"/>
<text class="tx f38" x="819" y="1378.4"><tspan x="819">Traders and intermediaries participate in</tspan><tspan x="819" dy="4.8">auctions and provide liquidity</tspan></text></g>
<g id="act-traders-trade"><rect x="770" y="1446" width="98" height="20" rx="4" class="lteal"/>
<text class="tx f38" x="819" y="1454.9"><tspan x="819">Traders and intermediaries participate in</tspan><tspan x="819" dy="4.8">secondary market trading</tspan></text></g>
<g id="act-penalty"><rect x="318" y="1369" width="74" height="21" rx="4" fill="#8fdcd6"/>
<rect class="hl" x="322" y="1372" width="66" height="14"/>
<text class="tx f36" x="355" y="1376.3"><tspan x="355">Regulated firms non-compliance /</tspan><tspan x="355" dy="4.5">penalties for late or missed</tspan><tspan x="355" dy="4.5">surrender</tspan></text></g>
<g id="a39"><use href="#cloud" x="473" y="1398" width="90" height="57"/>
<text class="ct" x="518" y="1416.3"><tspan x="518">A39: Regulated</tspan><tspan x="518" dy="4.6">firms understand</tspan><tspan x="518" dy="4.6">the scheme</tspan><tspan x="518" dy="4.6">requirements and</tspan><tspan x="518" dy="4.6">have sufficient</tspan><tspan x="518" dy="4.6">capacity</tspan></text></g>
<g id="a40"><use href="#cloud" x="480" y="1494" width="78" height="62"/>
<text class="ct" x="519" y="1519.4"><tspan x="519">A40: Guidance on the</tspan><tspan x="519" dy="4.6">scheme is clear</tspan><tspan x="519" dy="4.6">and accessible</tspan><tspan x="519" dy="4.6">to all firms</tspan></text></g>
<g id="a41"><use href="#cloud" x="502" y="1556" width="67" height="50"/>
<text class="ct" x="535.5" y="1575.4"><tspan x="535.5">A41: Effective</tspan><tspan x="535.5" dy="4.6">engagement with</tspan><tspan x="535.5" dy="4.6">industry during</tspan><tspan x="535.5" dy="4.6">design</tspan></text></g>
<g id="c-passthrough"><circle cx="424" cy="1483" r="32" class="yc"/>
<text class="tx b f42 cd" x="424" y="1479.4"><tspan x="424">Cost pass-through</tspan><tspan x="424" dy="5">(mitigating light</tspan><tspan x="424" dy="5">distribution)</tspan></text></g>
<g id="a42"><use href="#cloud" x="830" y="1461" width="76" height="44"/>
<text class="ct" x="868" y="1477.4"><tspan x="868">A42: Traders understand</tspan><tspan x="868" dy="4.6">the market rules</tspan><tspan x="868" dy="4.6">and have access</tspan><tspan x="868" dy="4.6">to the registry</tspan></text></g>

<!-- inputs and rationale -->
<g id="inputs"><rect x="545" y="1600" width="140" height="38" rx="6" fill="#8dc84b" stroke="#4f7f24" stroke-width="1"/>
<text class="tx b" x="615" y="1606.5">INPUTS</text>
<text class="tx f38" x="615" y="1612.5"><tspan x="615">New regulations set a cap on the total level of emissions within</tspan><tspan x="615" dy="6">each compliance year in a trading period. Conservation</tspan><tspan x="615" dy="6">The scheme put in place to facilitate the operation of the scheme</tspan><tspan x="615" dy="6">(e.g. trading platform and reporting regulation).</tspan></text></g>
<g id="rationale"><rect x="521" y="1659" width="188" height="90" rx="10" fill="#3a3db3"/>
<text class="tx f41 w" x="615" y="1666"><tspan x="615"><tspan font-weight="700">RATIONALE</tspan> The UK introduced carbon pricing through its own emissions trading</tspan><tspan x="615" dy="5.5">scheme following its exit from the EU ETS. Carbon markets are widely agreed</tspan><tspan x="615" dy="5.5">to be an effective and efficient means of reducing emissions at least cost</tspan><tspan x="615" dy="5.5">by setting a price on carbon and letting the market find the cheapest abatement.</tspan><tspan x="615" dy="7.5">An ETS provides firms with flexibility in how and when they abate, and the cap</tspan><tspan x="615" dy="5.5">provides certainty that emissions will fall in line with targets, while</tspan><tspan x="615" dy="5.5">free allocation helps to manage the risk of carbon leakage.</tspan><tspan x="615" dy="15">The UK ETS also supports the UK's net zero commitment and industrial strategy,</tspan><tspan x="615" dy="5.5">encouraging innovation and investment in low carbon technologies while</tspan><tspan x="615" dy="5.5">mitigating the risk of carbon leakage to other jurisdictions with less</tspan><tspan x="615" dy="5.5">stringent climate policies.</tspan></text></g>

<!-- external factors -->
<g id="external-factors">
<path d="M6,1748 L6,1378 Q6,1353 31,1353 L236,1353 Q270,1353 270,1390 L270,1748" fill="#fbfbfb" stroke="#b5b5b5" stroke-width="0.8"/>
<text x="15" y="1384" font-family="'Open Sans','Liberation Sans',sans-serif" font-size="9" font-weight="700" fill="#3a3a3a">EXTERNAL FACTORS</text>
<text class="ef" x="9" y="1403"><tspan fill="#c0504d">Non-UK ETS</tspan> : participation in other schemes (e.g. EU ETS) can</text>
<text class="ef" x="9" y="1413.1">cause additional administration for firms affected by one or</text>
<text class="ef" x="9" y="1423.2">more schemes;  presence / absence of other schemes can</text>
<text class="ef" x="9" y="1433.3">reinforce / undermine likely impact of UK ETS.</text>
<text class="ef" x="9" y="1448.4">Wider UK Energy / climate policy.</text>
<text class="ef" x="9" y="1463.5">Emergence of new or more cost effective abatement options</text>
<text class="ef" x="9" y="1473.6">- innovative systems / processes / technologies / service</text>
<text class="ef" x="9" y="1483.7">solutions, which may reduce the cost of abatement (e.g. large</text>
<text class="ef" x="9" y="1493.8">scale CCUS) / potential evolution of disruptive technologies</text>
<text class="ef" x="9" y="1503.9">and services.</text>
<text class="ef" x="9" y="1519">UK energy prices</text>
<text class="ef" x="9" y="1534.1">Investment outlook (cost of capital).</text>
<text class="ef" x="9" y="1549.2">Growing awareness of climate change means regulated firms</text>
<text class="ef" x="9" y="1559.3">may be under pressure to reduce carbon emissions from</text>
<text class="ef" x="9" y="1569.4">investors, customers and staff.</text>
<text class="ef" x="9" y="1584.5">Carbon policies of international competitors (e.g. emergence</text>
<text class="ef" x="9" y="1594.6">of carbon border adjustment mechanisms. May include</text>
<text class="ef" x="9" y="1604.7">sector specific measures such as the proposed EU ban on</text>
<text class="ef" x="9" y="1614.8">aviation fuel).</text>
<text class="ef" x="9" y="1629.9">International affairs (residual impact of Covid/ Ukraine war/</text>
<text class="ef" x="9" y="1640">US Inflation Reduction Act and EU Green Deal Industrial Plan)</text>
<text class="ef" x="9" y="1655.1">Sector specific issues. May be associated with industry</text>
<text class="ef" x="9" y="1665.2">specific initiatives or UK trade/industrial policy and may or</text>
<text class="ef" x="9" y="1675.3">may not be consistent with UK ETS aims. (e.g. CORSIA;</text>
<text class="ef" x="9" y="1685.4">increased trade via power interconnections).</text>
<text class="ef" x="9" y="1700.5">Economic performance of the UK.</text>
<text class="ef" x="9" y="1715.6">Impact of non carbon/climate related environmental policy</text>
<text class="ef" x="9" y="1730.7">Capacity of the electricity grid (a potential constraint on</text>
<text class="ef" x="9" y="1740.8">electrification)</text>
</g>
</svg>
